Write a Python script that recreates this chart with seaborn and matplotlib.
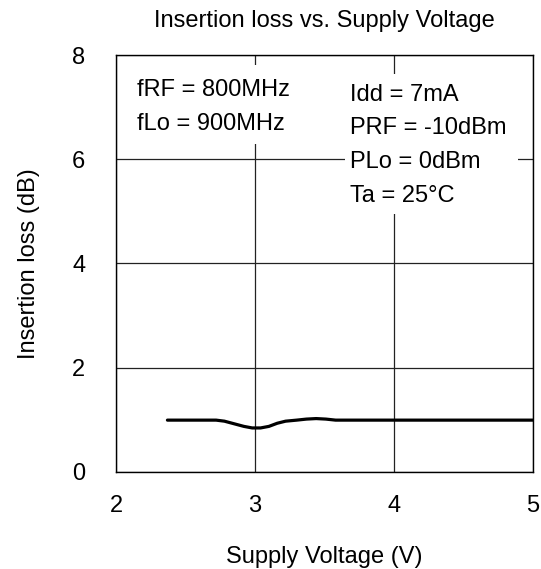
import matplotlib
matplotlib.use("Agg")
import matplotlib.pyplot as plt
import seaborn as sns
import pandas as pd
from matplotlib.patches import Rectangle

voltage = [2.37, 2.72, 2.78, 2.85, 2.92, 2.98, 3.04, 3.10, 3.16, 3.22, 3.30, 3.37, 3.44, 3.51, 3.58, 4.0, 4.5, 5.0]
loss = [0.99, 0.99, 0.97, 0.92, 0.87, 0.84, 0.84, 0.87, 0.93, 0.97, 0.99, 1.01, 1.02, 1.01, 0.99, 0.99, 0.99, 0.99]
x_ticks = [2, 3, 4, 5]
y_ticks = [0, 2, 4, 6, 8]
left_notes = ["fRF = 800MHz", "fLo = 900MHz"]
right_notes = ["Idd = 7mA", "PRF = -10dBm", "PLo = 0dBm", "Ta = 25\u00b0C"]

sns.set_style("white")
plt.rcParams['font.family'] = ['Liberation Sans', 'DejaVu Sans']
plt.rcParams['text.color'] = 'black'
plt.rcParams['axes.labelcolor'] = 'black'

FS = 17

fig = plt.figure(figsize=(5.41, 5.69), dpi=100)
ax = fig.add_axes([116/541, 1-471.7/569, (533-116)/541, (471.7-55)/569])

df = pd.DataFrame({"V": voltage, "IL": loss})
sns.lineplot(data=df, x="V", y="IL", ax=ax, color="black", linewidth=2.3, zorder=5)

ax.set_xlim(2, 5)
ax.set_ylim(0, 8)
ax.set_xticks(x_ticks)
ax.set_yticks(y_ticks)
ax.set_xticklabels([str(t) for t in x_ticks])
ax.set_yticklabels([str(t) for t in y_ticks])
ax.grid(True, color="#222222", linewidth=0.9, zorder=1)
ax.set_axisbelow(True)
for s in ax.spines.values():
    s.set_color("black")
    s.set_linewidth(1.0)
ax.tick_params(axis="both", length=0, labelsize=FS, colors="black")
ax.tick_params(axis="x", pad=16.5)
ax.tick_params(axis="y", pad=22)

ax.set_xlabel("Supply Voltage (V)", fontsize=FS, labelpad=21)
ax.set_ylabel("Insertion loss (dB)", fontsize=FS, labelpad=23)
ax.set_title("Insertion loss vs. Supply Voltage", fontsize=FS, pad=20)

# white boxes behind annotations (cover gridlines)
ax.add_patch(Rectangle((2.06, 6.30), 1.26, 1.51, facecolor="white", edgecolor="none", zorder=2))
ax.add_patch(Rectangle((3.65, 4.94), 1.24, 2.70, facecolor="white", edgecolor="none", zorder=2))

for i, t in enumerate(left_notes):
    ax.text(2.15, 7.32 - i * 0.65, t, fontsize=FS, ha="left", va="center", zorder=6)
for i, t in enumerate(right_notes):
    ax.text(3.68, 7.24 - i * 0.65, t, fontsize=FS, ha="left", va="center", zorder=6)

fig.savefig("out.png", dpi=100)
